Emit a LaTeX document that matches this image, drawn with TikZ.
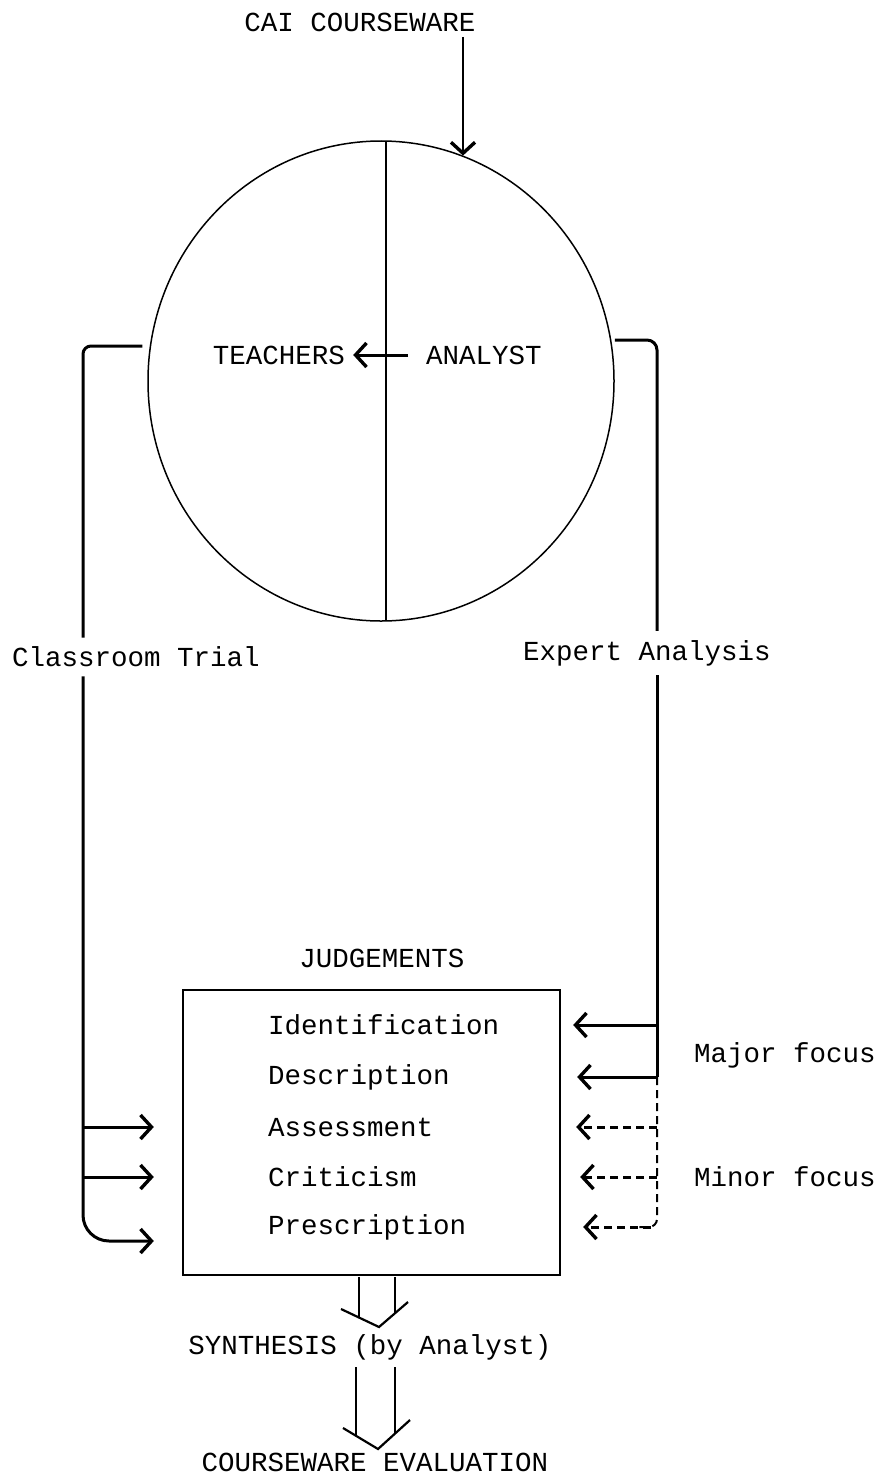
\documentclass[tikz,border=0pt]{standalone}
\usepackage{fontspec}
\usepackage{tikz}
\usetikzlibrary{arrows.meta,shapes.geometric}
\newfontfamily\typewriter{Liberation Mono}

\begin{document}
\begin{tikzpicture}[x=1pt, y=-1pt,
    label/.style={inner sep=0pt, font=\typewriter\fontsize{27.5}{30}\selectfont},
    item/.style={label, anchor=west},
    arrow/.style={-{Straight Barb[length=11pt, width=24pt, line width=3.4pt]}, line width=3pt},
    dasharrow/.style={arrow, dash pattern=on 8pt off 5pt},
    rail/.style={line width=3pt},
    hollow/.style={line width=2.2pt}
]
    \useasboundingbox (0,0) rectangle (881,1477);

    % Circle with the two roles
    \node[label] (cai) at (360,22) {CAI COURSEWARE};
    \node[draw, ellipse, line width=1.5pt, minimum width=466pt, minimum height=480pt, inner sep=0pt] (disc) at (381,381) {};
    \coordinate (top) at (386,141);
    \coordinate (bottom) at (386,621);
    \draw[line width=2pt] (top) -- (bottom);
    \coordinate (feed) at (463,37);
    \draw[arrow, line width=2pt] (feed) -- (feed |- disc.70);
    \node[label] (teachers) at (279,355) {TEACHERS};
    \node[label] (analyst) at (484,355) {ANALYST};
    \draw[arrow] ([xshift=-18pt]analyst.west) -- ([xshift=8pt]teachers.east);

    % Side routes
    \node[label, inner ysep=9pt] (classroom) at (136,657) {Classroom Trial};
    \node[label, inner ysep=9pt] (expert) at (647,653) {Expert Analysis};
    \coordinate (lrail) at (83,346);
    \coordinate (rrail) at (657,340);

    % Judgements box
    \node[label] (judgements) at (382,958) {JUDGEMENTS};
    \node[draw, line width=2.4pt, minimum width=377pt, minimum height=285pt, inner sep=0pt] (board) at (371.5,1132.5) {};
    \node[item] (ident) at (268,1025) {Identification};
    \node[item] (descr) at (268,1077) {Description};
    \node[item] (assess) at (268,1127) {Assessment};
    \node[item] (critic) at (268,1177) {Criticism};
    \node[item] (presc) at (268,1227) {Prescription};
    \node[label] (major) at (785,1055) {Major focus};
    \node[label] (minor) at (785,1177) {Minor focus};

    % Left: classroom trial
    \draw[rail, rounded corners=8pt] ([xshift=-5pt]disc.west |- lrail) -- (lrail) -- (classroom.north -| lrail);
    \draw[arrow, rounded corners=26pt] (classroom.south -| lrail) -- ([yshift=-14pt]lrail |- presc) -- ([xshift=-28pt, yshift=-14pt]board.west |- presc);
    \draw[arrow] (lrail |- assess) -- ([xshift=-28pt]board.west |- assess);
    \draw[arrow] (lrail |- critic) -- ([xshift=-28pt]board.west |- critic);

    % Right: expert analysis
    \draw[rail, rounded corners=10pt] (disc.east |- rrail) -- (rrail) -- (expert.north -| rrail);
    \draw[rail] (expert.south -| rrail) -- (rrail |- descr);
    \draw[arrow] (rrail |- ident) -- ([xshift=12pt]board.east |- ident);
    \draw[arrow] (rrail |- descr) -- ([xshift=16pt]board.east |- descr);
    \draw[line width=2pt, dash pattern=on 8pt off 5pt, rounded corners=8pt] (rrail |- descr) -- (rrail |- presc) -- ([xshift=70pt]board.east |- presc);
    \draw[dasharrow] (rrail |- assess) -- ([xshift=15pt]board.east |- assess);
    \draw[dasharrow] (rrail |- critic) -- ([xshift=19pt]board.east |- critic);
    \draw[dasharrow] ([xshift=-6pt]rrail |- presc) -- ([xshift=22pt]board.east |- presc);

    % Synthesis and evaluation
    \node[label] (synth) at (370,1347) {SYNTHESIS (by Analyst)};
    \node[label] (evaluation) at (375,1462) {COURSEWARE EVALUATION};
    \coordinate (h1) at (377,1277);
    \draw[hollow] ([xshift=-18pt]h1) -- ++(0,40);
    \draw[hollow] ([xshift=18pt]h1) -- ++(0,36);
    \draw[hollow] (341,1309) -- (379,1327) -- (408,1302);
    \coordinate (h2) at (376,1367);
    \draw[hollow] ([xshift=-20pt]h2) -- ++(0,69);
    \draw[hollow] ([xshift=19pt]h2) -- ++(0,67);
    \draw[hollow] (343,1428) -- (378,1449) -- (410,1420);
\end{tikzpicture}
\end{document}
